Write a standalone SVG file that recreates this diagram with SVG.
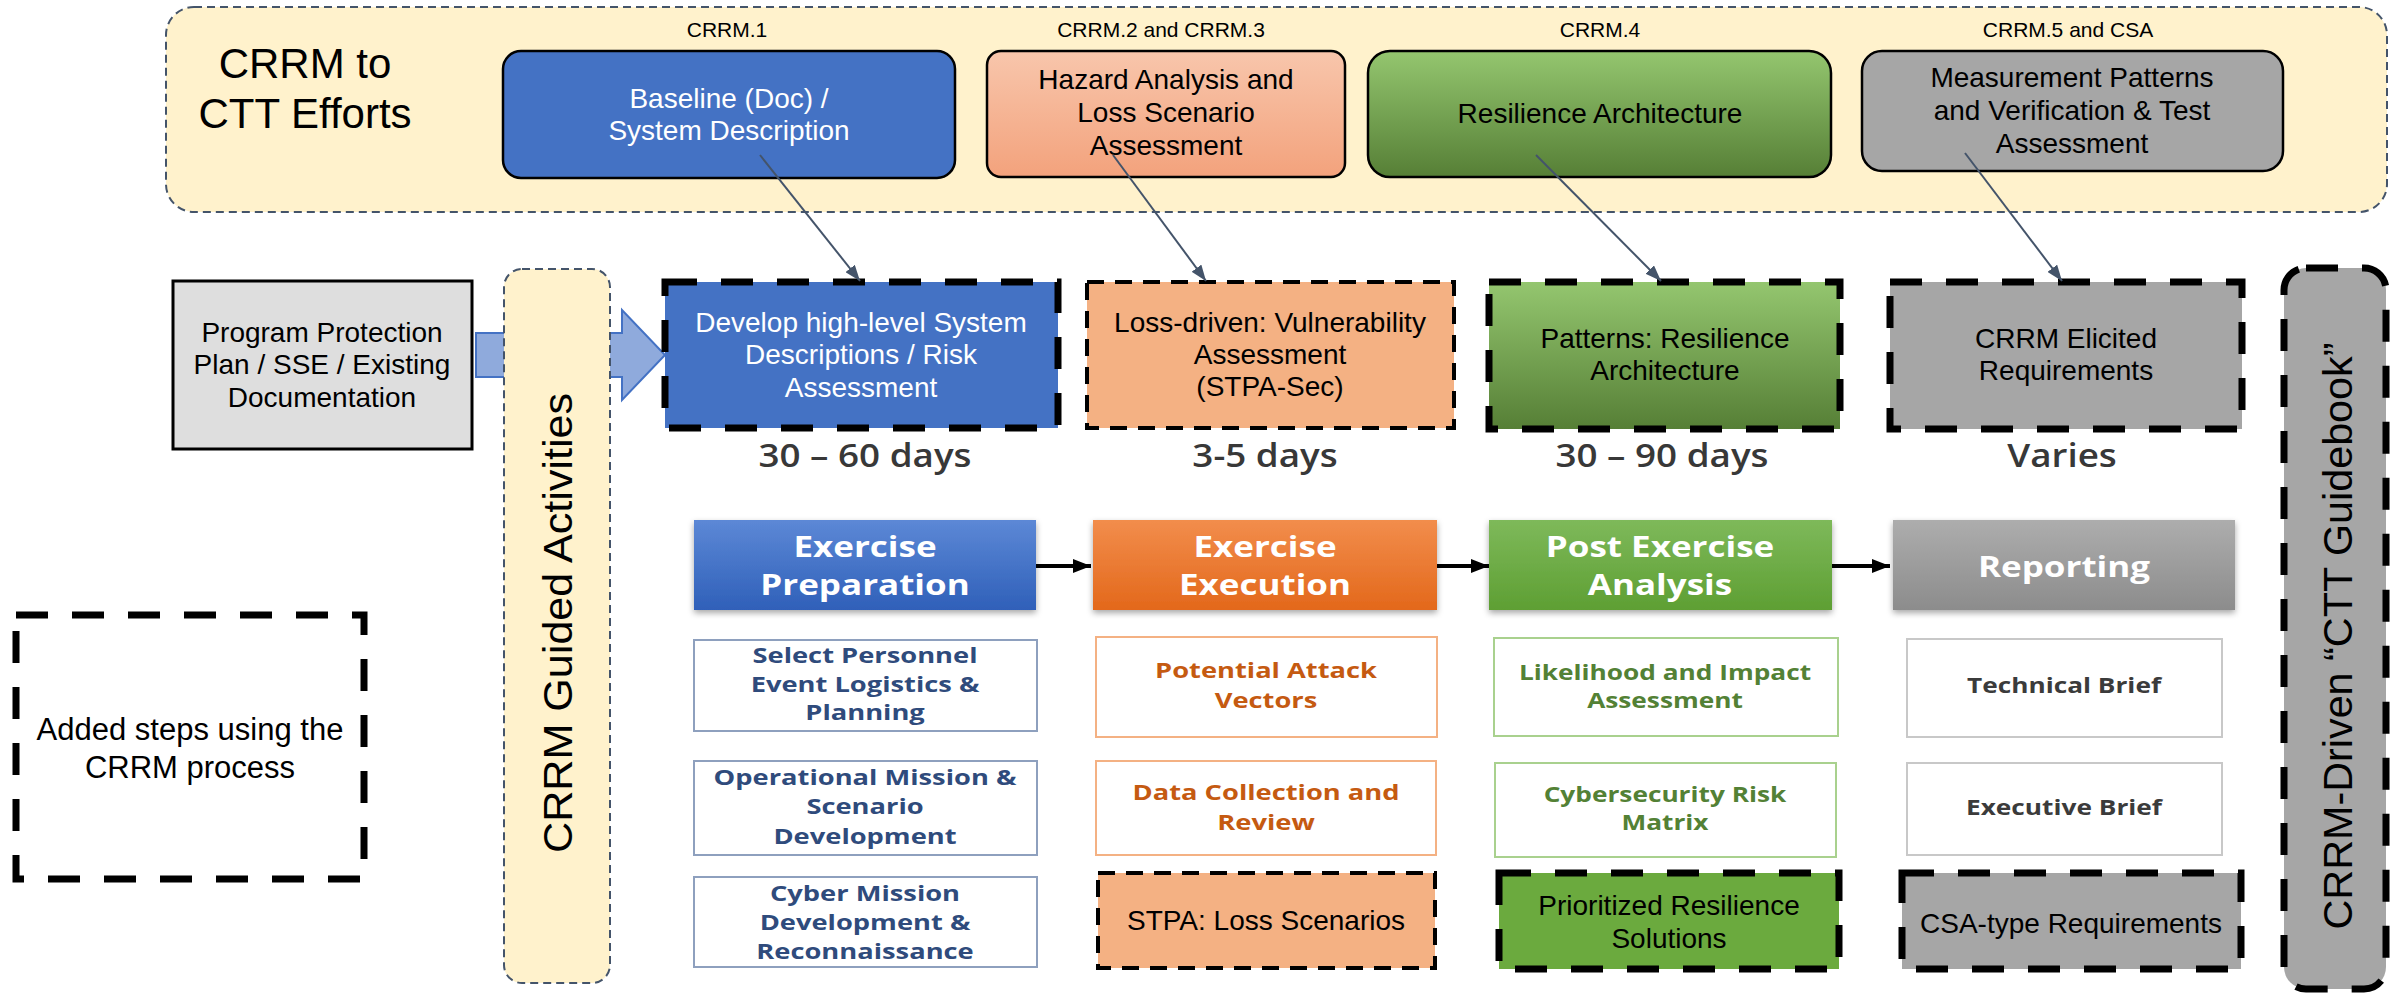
<svg xmlns="http://www.w3.org/2000/svg" width="2394" height="995" viewBox="0 0 2394 995">
<defs>
<style>
.a{font-family:"Liberation Sans",Arial,sans-serif;text-anchor:middle;fill:#000}
.s28{font-size:28px}
.s21{font-size:21px}
.w{fill:#fff}
.g{font-family:"Open Sans",sans-serif;font-weight:700;font-size:21px;text-anchor:middle}
.h{font-family:"Open Sans",sans-serif;font-weight:700;font-size:28px;text-anchor:middle;fill:#fff}
.d{font-family:"Open Sans",sans-serif;font-weight:600;font-size:32px;text-anchor:middle;fill:#383838}
.thin{stroke:#44546A;stroke-width:2;stroke-dasharray:8 5}
.thick{stroke:#000;stroke-width:7;stroke-dasharray:32 24}
.fine{stroke:#000;stroke-width:4;stroke-dasharray:17 11}
.solid{stroke:#000;stroke-width:2.5}
.conn{stroke:#44546A;stroke-width:2;fill:none}
.flow{stroke:#000;stroke-width:4;fill:none}
.c1{fill:#2F4B7C}.c2{fill:#C55A11}.c3{fill:#538135}.c4{fill:#3B3B3B}
</style>
<linearGradient id="gHaz" x1="0" y1="0" x2="0" y2="1"><stop offset="0" stop-color="#F8C6AC"/><stop offset="1" stop-color="#F3A27C"/></linearGradient>
<linearGradient id="gGrn" x1="0" y1="0" x2="0" y2="1"><stop offset="0" stop-color="#94C66F"/><stop offset="1" stop-color="#567F36"/></linearGradient>
<linearGradient id="gPrep" x1="0" y1="0" x2="0" y2="1"><stop offset="0" stop-color="#5C88D6"/><stop offset="1" stop-color="#2F60B9"/></linearGradient>
<linearGradient id="gExec" x1="0" y1="0" x2="0" y2="1"><stop offset="0" stop-color="#F28D4C"/><stop offset="1" stop-color="#E3681B"/></linearGradient>
<linearGradient id="gPost" x1="0" y1="0" x2="0" y2="1"><stop offset="0" stop-color="#7EB95A"/><stop offset="1" stop-color="#5E9F33"/></linearGradient>
<linearGradient id="gRep" x1="0" y1="0" x2="0" y2="1"><stop offset="0" stop-color="#ADADAD"/><stop offset="1" stop-color="#8C8C8C"/></linearGradient>
<filter id="sh" x="-10%" y="-10%" width="120%" height="130%"><feDropShadow dx="0" dy="3" stdDeviation="3" flood-color="#000" flood-opacity="0.35"/></filter>
<marker id="mS" viewBox="0 0 16 12" refX="16" refY="6" markerWidth="16" markerHeight="12" markerUnits="userSpaceOnUse" orient="auto"><path d="M0,0 L16,6 L0,12 Z" fill="#44546A"/></marker>
<marker id="mB" viewBox="0 0 18 14" refX="18" refY="7" markerWidth="18" markerHeight="14" markerUnits="userSpaceOnUse" orient="auto"><path d="M0,0 L18,7 L0,14 Z" fill="#000"/></marker>
</defs>
<rect width="2394" height="995" fill="#fff"/>

<g id="crrm-ctt-efforts">
<rect x="166" y="7" width="2221" height="205" rx="28" fill="#FFF2CC" class="thin"/>
<text class="a" font-size="42" x="305" y="78">CRRM to</text>
<text class="a" font-size="42" x="305" y="128">CTT Efforts</text>
</g>

<g id="label-crrm1"><text class="a s21" x="727" y="37">CRRM.1</text></g>
<g id="label-crrm23"><text class="a s21" x="1161" y="37">CRRM.2 and CRRM.3</text></g>
<g id="label-crrm4"><text class="a s21" x="1600" y="37">CRRM.4</text></g>
<g id="label-crrm5"><text class="a s21" x="2068" y="37">CRRM.5 and CSA</text></g>

<g id="baseline">
<rect x="503" y="51" width="452" height="127" rx="18" fill="#4472C4" class="solid"/>
<text class="a s28 w" x="729" y="108">Baseline (Doc) /</text>
<text class="a s28 w" x="729" y="140">System Description</text>
</g>
<g id="hazard">
<rect x="987" y="51" width="358" height="126" rx="14" fill="url(#gHaz)" class="solid"/>
<text class="a s28" x="1166" y="89">Hazard Analysis and</text>
<text class="a s28" x="1166" y="122">Loss Scenario</text>
<text class="a s28" x="1166" y="155">Assessment</text>
</g>
<g id="resilience-arch">
<rect x="1368" y="51" width="463" height="126" rx="22" fill="url(#gGrn)" class="solid"/>
<text class="a s28" x="1600" y="123">Resilience Architecture</text>
</g>
<g id="measurement">
<rect x="1862" y="51" width="421" height="120" rx="20" fill="#A6A6A6" class="solid"/>
<text class="a s28" x="2072" y="87">Measurement Patterns</text>
<text class="a s28" x="2072" y="120">and Verification &amp; Test</text>
<text class="a s28" x="2072" y="153">Assessment</text>
</g>

<g id="program-protection">
<rect x="173" y="281" width="299" height="168" fill="#DEDEDE" stroke="#000" stroke-width="3"/>
<text class="a s28" x="322" y="342">Program Protection</text>
<text class="a s28" x="322" y="374">Plan / SSE / Existing</text>
<text class="a s28" x="322" y="407">Documentation</text>
</g>

<g id="block-arrow">
<path d="M476,333 H622 V310 L665,355 L622,400 V377 H476 Z" fill="#8FAADC" stroke="#4472C4" stroke-width="2"/>
</g>

<g id="guided-activities">
<rect x="504" y="269" width="106" height="714" rx="18" fill="#FFF2CC" class="thin"/>
<text class="a" font-size="41" transform="translate(572,623) rotate(-90)" x="0" y="0" textLength="460" lengthAdjust="spacingAndGlyphs">CRRM Guided Activities</text>
</g>

<g id="develop">
<rect x="665" y="282" width="393" height="146" fill="#4472C4" class="thick"/>
<text class="a s28 w" x="861" y="332">Develop high-level System</text>
<text class="a s28 w" x="861" y="364">Descriptions / Risk</text>
<text class="a s28 w" x="861" y="397">Assessment</text>
</g>
<g id="loss-driven">
<rect x="1087" y="282" width="367" height="146" fill="#F4B183" class="fine"/>
<text class="a s28" x="1270" y="332">Loss-driven: Vulnerability</text>
<text class="a s28" x="1270" y="364">Assessment</text>
<text class="a s28" x="1270" y="396">(STPA-Sec)</text>
</g>
<g id="patterns">
<rect x="1489" y="282" width="351" height="147" fill="url(#gGrn)" class="thick"/>
<text class="a s28" x="1665" y="348">Patterns: Resilience</text>
<text class="a s28" x="1665" y="380">Architecture</text>
</g>
<g id="elicited">
<rect x="1890" y="282" width="352" height="147" fill="#A6A6A6" class="thick"/>
<text class="a s28" x="2066" y="348">CRRM Elicited</text>
<text class="a s28" x="2066" y="380">Requirements</text>
</g>

<g id="guidebook">
<rect x="2284" y="268" width="102" height="721" rx="22" fill="#A6A6A6" class="thick"/>
<text class="a" font-size="41" transform="translate(2352,636) rotate(-90)" x="0" y="0" textLength="587" lengthAdjust="spacingAndGlyphs">CRRM-Driven “CTT Guidebook”</text>
</g>

<g id="durations">
<text class="d" transform="translate(865,467) scale(1.15,1)">30 – 60 days</text>
<text class="d" transform="translate(1265,467) scale(1.15,1)">3-5 days</text>
<text class="d" transform="translate(1662,467) scale(1.15,1)">30 – 90 days</text>
<text class="d" transform="translate(2062,467) scale(1.15,1)">Varies</text>
</g>

<g id="legend">
<rect x="16" y="615" width="348" height="264" fill="none" class="thick"/>
<text class="a" font-size="31" x="190" y="740">Added steps using the</text>
<text class="a" font-size="31" x="190" y="778">CRRM process</text>
</g>

<g id="hdr-prep">
<rect x="694" y="520" width="342" height="90" fill="url(#gPrep)" filter="url(#sh)"/>
<text class="h" transform="translate(865,557) scale(1.25,1)">Exercise</text>
<text class="h" transform="translate(865,595) scale(1.25,1)">Preparation</text>
</g>
<g id="hdr-exec">
<rect x="1093" y="520" width="344" height="90" fill="url(#gExec)" filter="url(#sh)"/>
<text class="h" transform="translate(1265,557) scale(1.25,1)">Exercise</text>
<text class="h" transform="translate(1265,595) scale(1.25,1)">Execution</text>
</g>
<g id="hdr-post">
<rect x="1489" y="520" width="343" height="90" fill="url(#gPost)" filter="url(#sh)"/>
<text class="h" transform="translate(1660,557) scale(1.25,1)">Post Exercise</text>
<text class="h" transform="translate(1660,595) scale(1.25,1)">Analysis</text>
</g>
<g id="hdr-report">
<rect x="1893" y="520" width="342" height="90" fill="url(#gRep)" filter="url(#sh)"/>
<text class="h" transform="translate(2064,577) scale(1.25,1)">Reporting</text>
</g>

<g id="select-personnel">
<rect x="694" y="640" width="343" height="91" fill="#fff" stroke="#8EA0BE" stroke-width="2"/>
<text class="g c1" transform="translate(865,663) scale(1.3,1)">Select Personnel</text>
<text class="g c1" transform="translate(865,692) scale(1.3,1)">Event Logistics &amp;</text>
<text class="g c1" transform="translate(865,720) scale(1.3,1)">Planning</text>
</g>
<g id="operational-mission">
<rect x="694" y="761" width="343" height="94" fill="#fff" stroke="#8EA0BE" stroke-width="2"/>
<text class="g c1" transform="translate(865,785) scale(1.3,1)">Operational Mission &amp;</text>
<text class="g c1" transform="translate(865,814) scale(1.3,1)">Scenario</text>
<text class="g c1" transform="translate(865,844) scale(1.3,1)">Development</text>
</g>
<g id="cyber-mission">
<rect x="694" y="877" width="343" height="90" fill="#fff" stroke="#8EA0BE" stroke-width="2"/>
<text class="g c1" transform="translate(865,901) scale(1.3,1)">Cyber Mission</text>
<text class="g c1" transform="translate(865,930) scale(1.3,1)">Development &amp;</text>
<text class="g c1" transform="translate(865,959) scale(1.3,1)">Reconnaissance</text>
</g>

<g id="attack-vectors">
<rect x="1096" y="637" width="341" height="100" fill="#fff" stroke="#F4B183" stroke-width="2"/>
<text class="g c2" transform="translate(1266,678) scale(1.3,1)">Potential Attack</text>
<text class="g c2" transform="translate(1266,708) scale(1.3,1)">Vectors</text>
</g>
<g id="data-collection">
<rect x="1096" y="761" width="340" height="94" fill="#fff" stroke="#F4B183" stroke-width="2"/>
<text class="g c2" transform="translate(1266,800) scale(1.3,1)">Data Collection and</text>
<text class="g c2" transform="translate(1266,830) scale(1.3,1)">Review</text>
</g>
<g id="stpa-loss">
<rect x="1098" y="873" width="337" height="95" fill="#F4B183" class="fine"/>
<text class="a s28" x="1266" y="930">STPA: Loss Scenarios</text>
</g>

<g id="likelihood">
<rect x="1494" y="638" width="344" height="98" fill="#fff" stroke="#A9D18E" stroke-width="2"/>
<text class="g c3" transform="translate(1665,680) scale(1.25,1)">Likelihood and Impact</text>
<text class="g c3" transform="translate(1665,708) scale(1.25,1)">Assessment</text>
</g>
<g id="risk-matrix">
<rect x="1495" y="763" width="341" height="94" fill="#fff" stroke="#A9D18E" stroke-width="2"/>
<text class="g c3" transform="translate(1665,802) scale(1.25,1)">Cybersecurity Risk</text>
<text class="g c3" transform="translate(1665,830) scale(1.25,1)">Matrix</text>
</g>
<g id="prioritized">
<rect x="1499" y="873" width="340" height="96" fill="#6BAA3E" class="thick"/>
<text class="a s28" x="1669" y="915">Prioritized Resilience</text>
<text class="a s28" x="1669" y="948">Solutions</text>
</g>

<g id="technical-brief">
<rect x="1907" y="639" width="315" height="98" fill="#fff" stroke="#C8C8C8" stroke-width="2"/>
<text class="g c4" transform="translate(2064,693) scale(1.25,1)">Technical Brief</text>
</g>
<g id="executive-brief">
<rect x="1907" y="763" width="315" height="92" fill="#fff" stroke="#C8C8C8" stroke-width="2"/>
<text class="g c4" transform="translate(2064,815) scale(1.25,1)">Executive Brief</text>
</g>
<g id="csa-type">
<rect x="1902" y="873" width="339" height="96" fill="#A6A6A6" class="thick"/>
<text class="a s28" x="2071" y="933">CSA-type Requirements</text>
</g>

<g id="connectors">
<line x1="760" y1="155" x2="860" y2="281" class="conn" marker-end="url(#mS)"/>
<line x1="1113" y1="155" x2="1206" y2="281" class="conn" marker-end="url(#mS)"/>
<line x1="1536" y1="155" x2="1661" y2="281" class="conn" marker-end="url(#mS)"/>
<line x1="1965" y1="153" x2="2062" y2="281" class="conn" marker-end="url(#mS)"/>
<line x1="1036" y1="566" x2="1091" y2="566" class="flow" marker-end="url(#mB)"/>
<line x1="1437" y1="566" x2="1489" y2="566" class="flow" marker-end="url(#mB)"/>
<line x1="1832" y1="566" x2="1890" y2="566" class="flow" marker-end="url(#mB)"/>
</g>
</svg>
